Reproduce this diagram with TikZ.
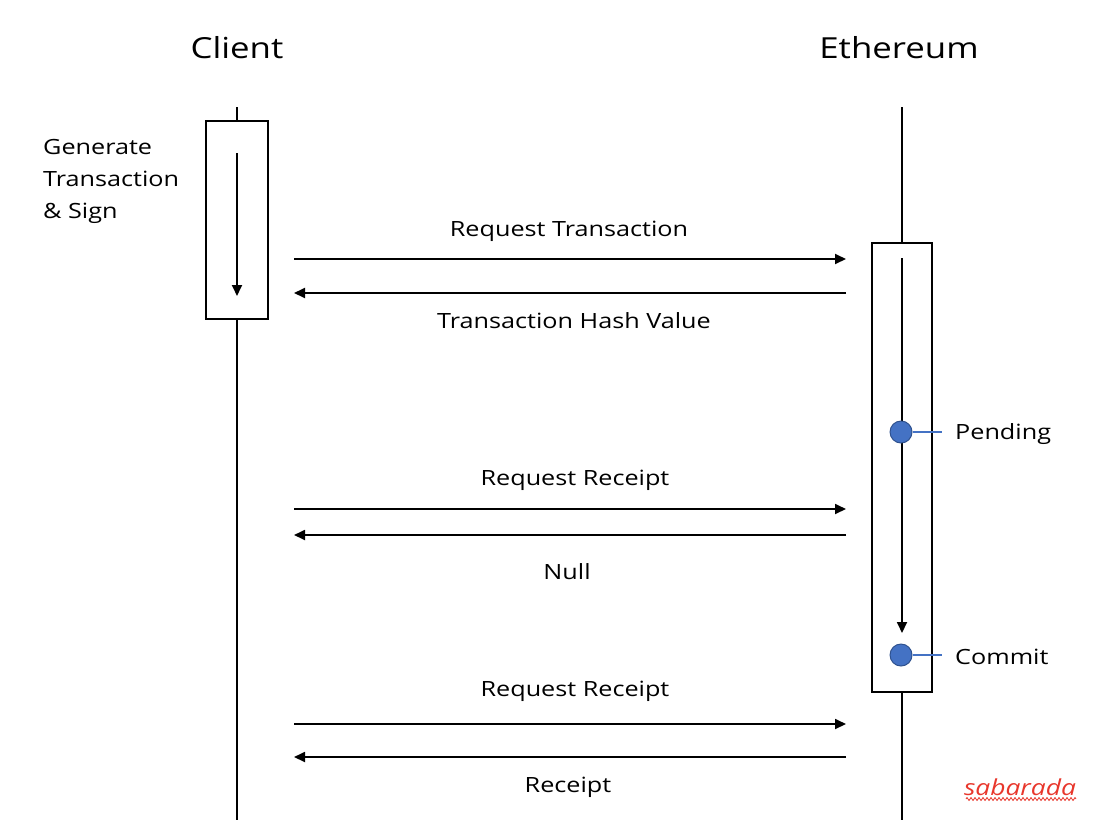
\documentclass[tikz,border=0pt]{standalone}
\usepackage{fontspec}
\setmainfont{Open Sans}[FakeStretch=1.2]
\usetikzlibrary{arrows.meta,decorations.pathmorphing}
\definecolor{dotblue}{HTML}{4472C4}
\definecolor{dotedge}{HTML}{2F528F}
\definecolor{wmred}{HTML}{E8372C}
\tikzset{
  life/.style={line width=1.8pt},
  actbox/.style={draw, line width=1.8pt, fill=white, inner sep=0pt},
  msg/.style={line width=1.8pt, -{Triangle[length=11pt,width=10pt]}},
  title/.style={font=\fontsize{29}{34}\selectfont, inner sep=0pt},
  lbl/.style={font=\fontsize{21}{32}\selectfont, inner sep=0pt},
  state/.style={circle, fill=dotblue, draw=dotedge, line width=1pt, minimum size=22pt, inner sep=0pt},
  tick/.style={draw=dotblue, line width=1.5pt},
}
\begin{document}
\begin{tikzpicture}[x=1pt,y=-1pt]
\useasboundingbox (0,0) rectangle (1102,830);
% titles
\node[title] (client) at (237,48) {Client};
\node[title] (eth) at (899,48) {Ethereum};
% lifelines
\coordinate (ctop) at (237,107);
\coordinate (cbot) at (237,820);
\coordinate (etop) at (902,107);
\coordinate (ebot) at (902,820);
\draw[life] (ctop) -- (cbot);
\draw[life] (etop) -- (ebot);
% activation boxes
\node[actbox, minimum width=62pt, minimum height=198pt] (cbox) at (237,220) {};
\node[actbox, minimum width=60pt, minimum height=449pt] (ebox) at (902,467.5) {};
% inner arrows
\coordinate (ca) at (237,153);
\coordinate (cb) at (237,296);
\draw[msg] (ca) -- (cb);
\coordinate (ea) at (902,258);
\coordinate (eb) at (902,633);
\draw[msg] (ea) -- (eb);
% states
\node[state] (pend) at (901,432) {};
\node[state] (comm) at (901,655) {};
\coordinate (pendt) at (942,432);
\coordinate (commt) at (942,655);
\draw[tick] (pend.east) -- (pendt);
\draw[tick] (comm.east) -- (commt);
\node[lbl, anchor=west] (pendl) at (955,434) {Pending};
\node[lbl, anchor=west] (comml) at (955,657) {Commit};
% left label
\node[lbl, anchor=north west, align=left] (gen) at (43,139) {Generate\\Transaction\\\& Sign};
% messages
\foreach \n/\y in {1/259,2/293,3/509,4/535,5/724,6/757}{
  \coordinate (c\n) at (294,\y);
  \coordinate (e\n) at (846,\y);
}
\draw[msg] (c1) -- (e1);
\draw[msg] (e2) -- (c2);
\draw[msg] (c3) -- (e3);
\draw[msg] (e4) -- (c4);
\draw[msg] (c5) -- (e5);
\draw[msg] (e6) -- (c6);
\node[lbl] (m1) at (569,231) {Request Transaction};
\node[lbl] (m2) at (574,321) {Transaction Hash Value};
\node[lbl] (m3) at (575,480) {Request Receipt};
\node[lbl] (m4) at (567,572) {Null};
\node[lbl] (m5) at (575,691) {Request Receipt};
\node[lbl] (m6) at (568,787) {Receipt};
% watermark
\node[font=\fontsize{22}{26}\selectfont\itshape, text=wmred, inner sep=0pt] (wm) at (1020,787) {sabarada};
\coordinate (wma) at (966,799);
\coordinate (wmb) at (1076,799);
\draw[wmred, line width=0.8pt, decorate, decoration={zigzag, amplitude=1.5pt, segment length=4pt}] (wma) -- (wmb);
\end{tikzpicture}
\end{document}
